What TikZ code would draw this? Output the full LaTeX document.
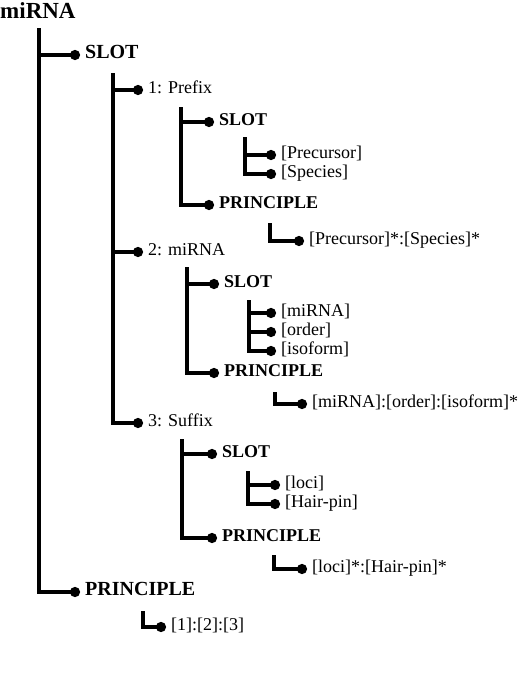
\documentclass[tikz,border=0pt]{standalone}
\usepackage{fontspec}
\setmainfont{Liberation Serif}
\usetikzlibrary{arrows.meta}

\begin{document}
\begin{tikzpicture}[
      x=1pt, y=-1pt,
      title/.style={anchor=west, inner xsep=0pt, font=\fontsize{23}{25}\selectfont\bfseries},
      top/.style={anchor=west, inner xsep=5pt, text height=0.8em, text depth=0.2em,
                  font=\fontsize{20}{22}\selectfont\bfseries},
      key/.style={anchor=west, inner xsep=5pt, text height=0.8em, text depth=0.2em,
                  font=\fontsize{18}{20}\selectfont\bfseries},
      leaf/.style={anchor=west, inner xsep=5pt, text height=0.8em, text depth=0.2em,
                   font=\fontsize{18}{20}\selectfont},
      branch/.style={-{Circle[length=10pt]}, line width=3.2pt}
    ]
    \useasboundingbox (0,0) rectangle (520,678);

    % Root
    \node[title] (root) at (0,11) {miRNA};
    \coordinate (vroot) at (39,28);
    \node[top] (slot)  at (80,55)  {SLOT};
    \node[top] (princ) at (80,592) {PRINCIPLE};
    \draw[branch] (vroot) |- (slot.west);
    \draw[branch] (vroot) |- (princ.west);

    % Slot parts
    \coordinate (vslot) at (113,73);
    \node[leaf] (prefix) at (143,90)  {1: Prefix};
    \node[leaf] (mirna)  at (143,252) {2: miRNA};
    \node[leaf] (suffix) at (143,423) {3: Suffix};
    \foreach \part in {prefix, mirna, suffix}
      \draw[branch] (vslot) |- (\part.west);

    % Prefix
    \coordinate (vpre) at (181,107);
    \node[key] (preslot)  at (214,122) {SLOT};
    \node[key] (preprinc) at (214,205) {PRINCIPLE};
    \draw[branch] (vpre) |- (preslot.west);
    \draw[branch] (vpre) |- (preprinc.west);
    \coordinate (vpreslot) at (245,137);
    \node[leaf] (precursor) at (276,155) {[Precursor]};
    \node[leaf] (species)   at (276,174) {[Species]};
    \draw[branch] (vpreslot) |- (precursor.west);
    \draw[branch] (vpreslot) |- (species.west);
    \coordinate (vpreprinc) at (270,223);
    \node[leaf] (prerule) at (304,241) {[Precursor]*:[Species]*};
    \draw[branch] (vpreprinc) |- (prerule.west);

    % miRNA
    \coordinate (vmir) at (187,267);
    \node[key] (mirslot)  at (219,284) {SLOT};
    \node[key] (mirprinc) at (219,373) {PRINCIPLE};
    \draw[branch] (vmir) |- (mirslot.west);
    \draw[branch] (vmir) |- (mirprinc.west);
    \coordinate (vmirslot) at (249,300);
    \node[leaf] (mirname) at (276,313) {[miRNA]};
    \node[leaf] (order)   at (276,332) {[order]};
    \node[leaf] (isoform) at (276,351) {[isoform]};
    \foreach \part in {mirname, order, isoform}
      \draw[branch] (vmirslot) |- (\part.west);
    \coordinate (vmirprinc) at (275,392);
    \node[leaf] (mirrule) at (307,404) {[miRNA]:[order]:[isoform]*};
    \draw[branch] (vmirprinc) |- (mirrule.west);

    % Suffix
    \coordinate (vsuf) at (182,439);
    \node[key] (sufslot)  at (217,454) {SLOT};
    \node[key] (sufprinc) at (217,538) {PRINCIPLE};
    \draw[branch] (vsuf) |- (sufslot.west);
    \draw[branch] (vsuf) |- (sufprinc.west);
    \coordinate (vsufslot) at (248,471);
    \node[leaf] (loci)    at (280,485) {[loci]};
    \node[leaf] (hairpin) at (280,504) {[Hair-pin]};
    \draw[branch] (vsufslot) |- (loci.west);
    \draw[branch] (vsufslot) |- (hairpin.west);
    \coordinate (vsufprinc) at (274,555);
    \node[leaf] (sufrule) at (307,569) {[loci]*:[Hair-pin]*};
    \draw[branch] (vsufprinc) |- (sufrule.west);

    % Root principle
    \coordinate (vprinc) at (143,611);
    \node[leaf] (rootrule) at (166,627) {[1]:[2]:[3]};
    \draw[branch] (vprinc) |- (rootrule.west);

  \end{tikzpicture}
\end{document}
